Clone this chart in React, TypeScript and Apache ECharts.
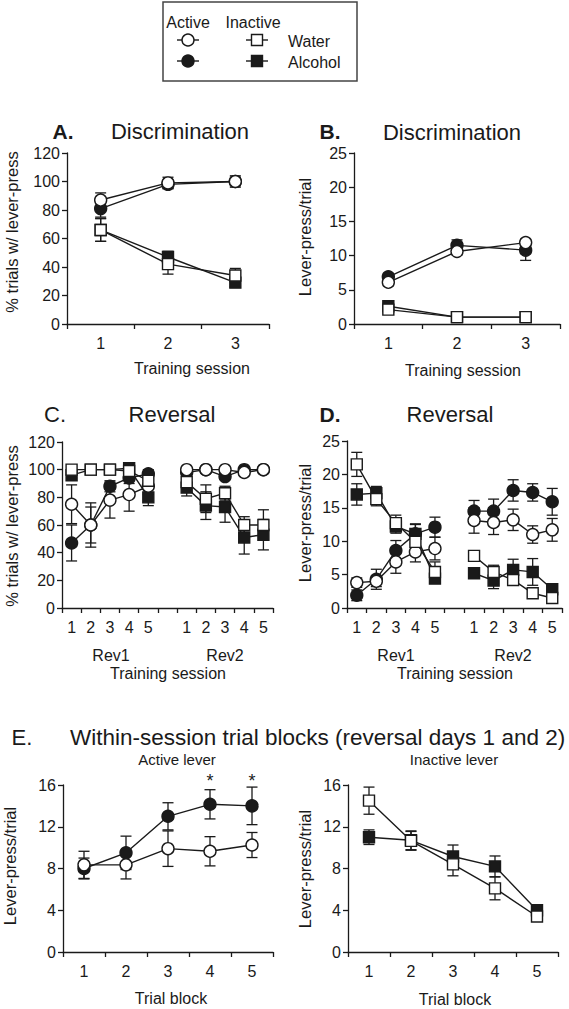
import React, { useEffect, useRef } from "react";
import * as echarts from "echarts";

// ---------- categories ----------
const sessionsAB = ["1", "2", "3"];
const sessionsCD = ["1", "2", "3", "4", "5", "", "1", "2", "3", "4", "5"];
const blocksE = ["1", "2", "3", "4", "5"];

// ---------- Panel A: % trials w/ lever-press (discrimination) ----------
const aWaterActive = [87, 99, 100];
const aWaterActiveErr = [5, 4, 4];
const aAlcoholActive = [81, 98, 100];
const aAlcoholActiveErr = [6, 3, 3];
const aWaterInactive = [66, 42, 34];
const aWaterInactiveErr = [8, 7, 5];
const aAlcoholInactive = [66, 47, 29];
const aAlcoholInactiveErr = [8, 4, 3];

// ---------- Panel B: lever-press/trial (discrimination) ----------
const bWaterActive = [6.1, 10.6, 11.9];
const bWaterActiveErr = [0.5, 0.5, 0.5];
const bAlcoholActive = [6.9, 11.5, 10.8];
const bAlcoholActiveErr = [0.5, 0.8, 1.5];
const bWaterInactive = [2.1, 1.0, 1.0];
const bWaterInactiveErr = [0.6, 0.3, 0.3];
const bAlcoholInactive = [2.6, 1.0, 1.0];
const bAlcoholInactiveErr = [0.5, 0.3, 0.3];

// ---------- Panel C: % trials w/ lever-press (reversal) ----------
const cWaterActive = [75, 60, 78, 82, 88, null, 100, 100, 100, 98, 100];
const cWaterActiveErr = [14, 16, 13, 12, 6, null, 1, 1, 1, 2, 1];
const cAlcoholActive = [47, 60, 88, 94, 97, null, 98, 100, 95, 100, 100];
const cAlcoholActiveErr = [13, 13, 4, 4, 3, null, 2, 1, 2, 1, 1];
const cWaterInactive = [100, 100, 100, 99, 92, null, 91, 79, 83, 60, 60];
const cWaterInactiveErr = [1, 1, 1, 1, 4, null, 3, 10, 5, 6, 11];
const cAlcoholInactive = [96, 100, 100, 101, 80, null, 87, 74, 73, 51, 53];
const cAlcoholInactiveErr = [2, 1, 1, 2, 6, null, 6, 10, 11, 12, 11];

// ---------- Panel D: lever-press/trial (reversal) ----------
const dWaterActive = [3.8, 4.0, 6.9, 8.4, 8.9, null, 13.1, 12.8, 13.2, 11.0, 11.7];
const dWaterActiveErr = [0.7, 0.8, 1.7, 1.5, 1.7, null, 1.9, 1.8, 1.6, 1.3, 1.7];
const dAlcoholActive = [1.9, 4.3, 8.6, 11.1, 12.1, null, 14.5, 14.5, 17.6, 17.3, 15.9];
const dAlcoholActiveErr = [0.8, 1.5, 1.5, 1.4, 1.5, null, 1.6, 1.8, 1.6, 1.3, 2.0];
const dWaterInactive = [21.5, 16.3, 12.7, 9.9, 5.4, null, 7.8, 5.4, 4.2, 2.2, 1.5];
const dWaterInactiveErr = [1.8, 1.0, 1.2, 1.5, 1.5, null, 0.7, 1.0, 0.8, 0.5, 0.5];
const dAlcoholInactive = [17.0, 17.2, 12.2, 11.1, 4.4, null, 5.2, 4.1, 5.7, 5.4, 2.8];
const dAlcoholInactiveErr = [1.6, 1.0, 1.0, 1.5, 0.6, null, 0.6, 1.2, 1.6, 2.0, 0.5];

// ---------- Panel E: within-session trial blocks ----------
const eWaterActive = [8.35, 8.35, 9.9, 9.65, 10.25];
const eWaterActiveErr = [1.3, 1.35, 1.7, 1.4, 1.2];
const eAlcoholActive = [8.0, 9.5, 13.0, 14.15, 14.0];
const eAlcoholActiveErr = [1.0, 1.6, 1.3, 1.4, 1.8];
const eWaterInactive = [14.5, 10.65, 8.4, 6.1, 3.4];
const eWaterInactiveErr = [1.3, 0.9, 1.1, 1.1, 0.4];
const eAlcoholInactive = [11.0, 10.7, 9.15, 8.2, 4.0];
const eAlcoholInactiveErr = [0.7, 0.9, 1.1, 1.0, 0.3];
const eStarBlocks = [3, 4];
const eStarLevel = 16.4;

// ---------- tick settings ----------
const pctAxis = { min: 0, max: 120, interval: 20 };
const rateAxis = { min: 0, max: 25, interval: 5 };
const blockAxis = { min: 0, max: 16, interval: 4 };

const FONT = "'Liberation Sans', Arial, sans-serif";
const INK = "#1a1a1a";

type Kind = "waterActive" | "alcoholActive" | "waterInactive" | "alcoholInactive";

function markerStyle(kind: Kind) {
  const open = kind === "waterActive" || kind === "waterInactive";
  const circle = kind === "waterActive" || kind === "alcoholActive";
  return { symbol: circle ? "circle" : "rect", fill: open ? "#ffffff" : INK, open };
}

function errorSeries(idx: number, values: (number | null)[], errs: (number | null)[], name: string) {
  const data: number[][] = [];
  values.forEach((v, i) => {
    const e = errs[i];
    if (v != null && e != null) data.push([i, v - e, v + e]);
  });
  return {
    type: "custom",
    name: name + " SEM",
    xAxisIndex: idx,
    yAxisIndex: idx,
    silent: true,
    z: 1,
    clip: false,
    encode: { x: 0, y: [1, 2] },
    data,
    renderItem: (params: any, api: any) => {
      const x = api.value(0);
      const lo = api.coord([x, api.value(1)]);
      const hi = api.coord([x, api.value(2)]);
      const cap = 5.5;
      const style = { stroke: INK, lineWidth: 1.3 };
      return {
        type: "group",
        children: [
          { type: "line", shape: { x1: lo[0], y1: lo[1], x2: hi[0], y2: hi[1] }, style },
          { type: "line", shape: { x1: lo[0] - cap, y1: lo[1], x2: lo[0] + cap, y2: lo[1] }, style },
          { type: "line", shape: { x1: hi[0] - cap, y1: hi[1], x2: hi[0] + cap, y2: hi[1] }, style },
        ],
      };
    },
  };
}

function lineSeries(idx: number, values: (number | null)[], kind: Kind, name: string) {
  const m = markerStyle(kind);
  return {
    type: "line",
    name,
    xAxisIndex: idx,
    yAxisIndex: idx,
    data: values,
    symbol: m.symbol,
    symbolSize: m.symbol === "circle" ? 12 : 11,
    showSymbol: true,
    showAllSymbol: true,
    connectNulls: false,
    silent: true,
    z: m.open ? 4 : 3,
    clip: false,
    itemStyle: { color: m.fill, borderColor: INK, borderWidth: 1.4, opacity: 1 },
    lineStyle: { color: INK, width: 1.4 },
  };
}

function group(idx: number, values: (number | null)[], errs: (number | null)[], kind: Kind, name: string) {
  return [errorSeries(idx, values, errs, name), lineSeries(idx, values, kind, name)];
}

const grids = [
  { left: 67, top: 153, width: 202, height: 171 }, // A
  { left: 354, top: 153, width: 206, height: 171 }, // B
  { left: 62, top: 442, width: 211, height: 166 }, // C
  { left: 347, top: 441, width: 215, height: 167 }, // D
  { left: 63, top: 785, width: 210, height: 167 }, // E left
  { left: 348, top: 785, width: 210, height: 167 }, // E right
];

const axisLine = { show: true, onZero: false, lineStyle: { color: INK, width: 1.3 } };
const axisTick = { show: true, length: 5, lineStyle: { color: INK, width: 1.3 } };
const tickLabel = { color: INK, fontSize: 16, fontFamily: FONT };

function xAxis(idx: number, cats: string[]) {
  return {
    type: "category",
    gridIndex: idx,
    data: cats,
    boundaryGap: true,
    axisLine,
    axisTick: { ...axisTick, alignWithLabel: false, interval: 0 },
    axisLabel: { ...tickLabel, margin: 11, interval: 0 },
    splitLine: { show: false },
  };
}

function yAxis(idx: number, s: { min: number; max: number; interval: number }) {
  return {
    type: "value",
    gridIndex: idx,
    min: s.min,
    max: s.max,
    interval: s.interval,
    axisLine,
    axisTick,
    axisLabel: { ...tickLabel, margin: 7 },
    splitLine: { show: false },
  };
}

function txt(text: string, x: number, y: number, size: number, opts: any = {}) {
  return {
    type: "text",
    x,
    y,
    rotation: opts.rotation || 0,
    silent: true,
    style: {
      text,
      fill: INK,
      fontSize: size,
      fontFamily: FONT,
      fontWeight: opts.bold ? "bold" : "normal",
      textAlign: opts.align || "center",
      textVerticalAlign: "middle",
    },
  };
}

function legendGraphics() {
  const els: any[] = [];
  els.push({
    type: "rect",
    shape: { x: 163, y: 2, width: 194, height: 79 },
    style: { fill: "none", stroke: "#444", lineWidth: 1.5 },
    silent: true,
  });
  els.push(txt("Active", 188, 22, 16));
  els.push(txt("Inactive", 253, 22, 16));
  const seg = (cx: number, cy: number) => ({
    type: "line",
    shape: { x1: cx - 11, y1: cy, x2: cx + 11, y2: cy },
    style: { stroke: INK, lineWidth: 1.4 },
    silent: true,
  });
  const circ = (cx: number, cy: number, fill: string) => ({
    type: "circle",
    shape: { cx, cy, r: 6 },
    style: { fill, stroke: INK, lineWidth: 1.4 },
    silent: true,
  });
  const sq = (cx: number, cy: number, fill: string) => ({
    type: "rect",
    shape: { x: cx - 5.5, y: cy - 5.5, width: 11, height: 11 },
    style: { fill, stroke: INK, lineWidth: 1.4 },
    silent: true,
  });
  els.push(seg(188, 40), circ(188, 40, "#fff"));
  els.push(seg(188, 61), circ(188, 61, INK));
  els.push(seg(257, 40), sq(257, 40, "#fff"));
  els.push(seg(257, 61), sq(257, 61, INK));
  els.push(txt("Water", 288, 41, 16, { align: "left" }));
  els.push(txt("Alcohol", 288, 62, 16, { align: "left" }));
  return els;
}

function starSeries(idx: number) {
  return {
    type: "custom",
    name: "significance",
    xAxisIndex: idx,
    yAxisIndex: idx,
    silent: true,
    clip: false,
    z: 5,
    data: eStarBlocks.map((b) => [b, eStarLevel]),
    encode: { x: 0, y: 1 },
    renderItem: (params: any, api: any) => {
      const p = api.coord([api.value(0), api.value(1)]);
      return {
        type: "text",
        x: p[0],
        y: p[1],
        style: { text: "*", fill: INK, fontSize: 18, fontFamily: FONT, textAlign: "center", textVerticalAlign: "middle" },
      };
    },
  };
}

export default function App() {
  const ref = useRef<HTMLDivElement>(null);
  useEffect(() => {
    if (!ref.current) return;
    const chart = echarts.init(ref.current, undefined, { renderer: "svg" });
    const series: any[] = [
      ...group(0, aAlcoholActive, aAlcoholActiveErr, "alcoholActive", "Alcohol active"),
      ...group(0, aAlcoholInactive, aAlcoholInactiveErr, "alcoholInactive", "Alcohol inactive"),
      ...group(0, aWaterActive, aWaterActiveErr, "waterActive", "Water active"),
      ...group(0, aWaterInactive, aWaterInactiveErr, "waterInactive", "Water inactive"),

      ...group(1, bAlcoholActive, bAlcoholActiveErr, "alcoholActive", "Alcohol active"),
      ...group(1, bAlcoholInactive, bAlcoholInactiveErr, "alcoholInactive", "Alcohol inactive"),
      ...group(1, bWaterActive, bWaterActiveErr, "waterActive", "Water active"),
      ...group(1, bWaterInactive, bWaterInactiveErr, "waterInactive", "Water inactive"),

      ...group(2, cAlcoholActive, cAlcoholActiveErr, "alcoholActive", "Alcohol active"),
      ...group(2, cAlcoholInactive, cAlcoholInactiveErr, "alcoholInactive", "Alcohol inactive"),
      ...group(2, cWaterActive, cWaterActiveErr, "waterActive", "Water active"),
      ...group(2, cWaterInactive, cWaterInactiveErr, "waterInactive", "Water inactive"),

      ...group(3, dAlcoholActive, dAlcoholActiveErr, "alcoholActive", "Alcohol active"),
      ...group(3, dAlcoholInactive, dAlcoholInactiveErr, "alcoholInactive", "Alcohol inactive"),
      ...group(3, dWaterActive, dWaterActiveErr, "waterActive", "Water active"),
      ...group(3, dWaterInactive, dWaterInactiveErr, "waterInactive", "Water inactive"),

      ...group(4, eAlcoholActive, eAlcoholActiveErr, "alcoholActive", "Alcohol active"),
      ...group(4, eWaterActive, eWaterActiveErr, "waterActive", "Water active"),
      starSeries(4),

      ...group(5, eAlcoholInactive, eAlcoholInactiveErr, "alcoholInactive", "Alcohol inactive"),
      ...group(5, eWaterInactive, eWaterInactiveErr, "waterInactive", "Water inactive"),
    ];

    const graphic: any[] = [
      ...legendGraphics(),
      // panel titles
      txt("A.", 63, 131, 21, { bold: true }),
      txt("Discrimination", 180, 131, 22),
      txt("B.", 330, 131, 21, { bold: true }),
      txt("Discrimination", 452, 132, 22),
      txt("C.", 55, 414, 22),
      txt("Reversal", 172, 414, 22),
      txt("D.", 330, 414, 21, { bold: true }),
      txt("Reversal", 450, 414, 22),
      txt("E.", 22, 737, 22),
      txt("Within-session trial blocks (reversal days 1 and 2)", 70, 737, 22.5, { align: "left" }),
      txt("Active lever", 177, 759, 15),
      txt("Inactive lever", 454, 759, 15),
      // x axis names
      txt("Training session", 192, 368, 16),
      txt("Training session", 463, 370, 16),
      txt("Rev1", 111, 655, 16),
      txt("Rev2", 225, 655, 16),
      txt("Training session", 168, 673, 16),
      txt("Rev1", 396, 655, 16),
      txt("Rev2", 513, 655, 16),
      txt("Training session", 455, 673, 16),
      txt("Trial block", 171, 998, 16),
      txt("Trial block", 455, 999, 16),
      // y axis names
      txt("% trials w/ lever-press", 12, 232, 16.5, { rotation: Math.PI / 2 }),
      txt("Lever-press/trial", 305, 237, 16.5, { rotation: Math.PI / 2 }),
      txt("% trials w/ lever-press", 12, 526, 16.5, { rotation: Math.PI / 2 }),
      txt("Lever-press/trial", 305, 523, 16.5, { rotation: Math.PI / 2 }),
      txt("Lever-press/trial", 10, 866, 16.5, { rotation: Math.PI / 2 }),
      txt("Lever-press/trial", 305, 869, 16.5, { rotation: Math.PI / 2 }),
    ];

    chart.setOption({
      animation: false,
      backgroundColor: "#ffffff",
      textStyle: { fontFamily: FONT, color: INK },
      grid: grids,
      xAxis: [
        xAxis(0, sessionsAB),
        xAxis(1, sessionsAB),
        xAxis(2, sessionsCD),
        xAxis(3, sessionsCD),
        xAxis(4, blocksE),
        xAxis(5, blocksE),
      ],
      yAxis: [
        yAxis(0, pctAxis),
        yAxis(1, rateAxis),
        yAxis(2, pctAxis),
        yAxis(3, rateAxis),
        yAxis(4, blockAxis),
        yAxis(5, blockAxis),
      ],
      series,
      graphic,
    });
    return () => chart.dispose();
  }, []);
  return (
    <div
      ref={ref}
      style={{ position: "absolute", left: 0, top: 0, width: 569, height: 1009, background: "#fff" }}
    />
  );
}
